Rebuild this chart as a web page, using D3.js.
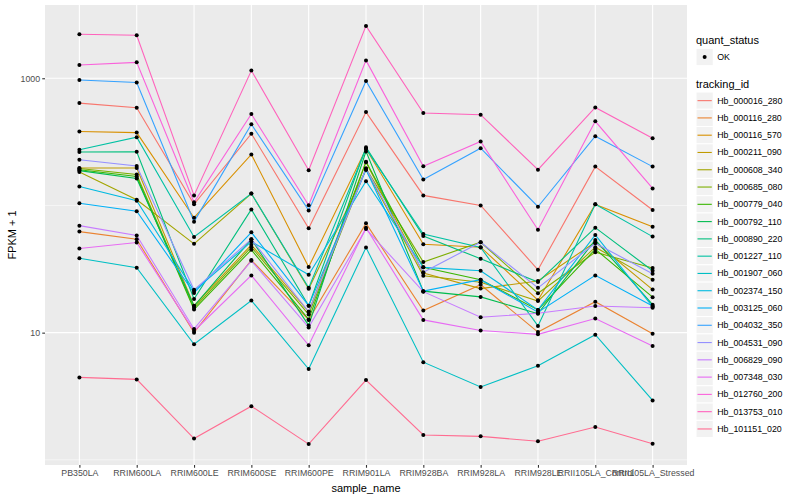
<!DOCTYPE html>
<html>
<head>
<meta charset="utf-8">
<script src="https://cdn.jsdelivr.net/npm/d3@7"></script>
<style>
  body { margin: 0; background: #ffffff; }
  svg text { font-family: "Liberation Sans", Arial, Helvetica, sans-serif; }
</style>
</head>
<body>
<div id="chart"></div>
<script>
// samples on the x axis
const samples = ["PB350LA", "RRIM600LA", "RRIM600LE", "RRIM600SE", "RRIM600PE", "RRIM901LA",
  "RRIM928BA", "RRIM928LA", "RRIM928LE", "RRII105LA_Control", "RRII105LA_Stressed"];

const trackingIds = ["Hb_000016_280", "Hb_000116_280", "Hb_000116_570", "Hb_000211_090", "Hb_000608_340",
  "Hb_000685_080", "Hb_000779_040", "Hb_000792_110", "Hb_000890_220", "Hb_001227_110",
  "Hb_001907_060", "Hb_002374_150", "Hb_003125_060", "Hb_004032_350", "Hb_004531_090",
  "Hb_006829_090", "Hb_007348_030", "Hb_012760_200", "Hb_013753_010", "Hb_101151_020"];

// FPKM + 1, one array per tracking_id, in sample order
const hb000016_280 = [638, 586, 102, 367, 66.1, 542, 120, 100, 31.2, 202, 92.2];
const hb000116_280 = [62.3, 54.2, 10.0, 37.2, 12.6, 72.3, 14.9, 23.8, 10.1, 17.5, 9.8];
const hb000116_570 = [381, 374, 80.1, 252, 32.8, 279, 49.6, 47.0, 18.0, 102, 67.9];
const hb000211_090 = [197, 197, 16.3, 49.0, 14.6, 219, 29.4, 22.2, 25.5, 51.4, 21.8];
const hb000608_340 = [183, 111, 49.9, 124, 22.1, 191, 28.0, 24.9, 17.7, 47.0, 26.0];
const hb000685_080 = [195, 175, 15.7, 47.0, 13.9, 195, 35.9, 51.4, 20.4, 42.9, 32.2];
const hb000779_040 = [191, 169, 15.2, 44.8, 12.7, 221, 32.6, 26.1, 15.1, 45.3, 19.0];
const hb000792_110 = [188, 163, 16.2, 54.2, 11.4, 266, 21.2, 19.1, 14.1, 53.6, 16.6];
const hb000890_220 = [263, 264, 18.4, 93.1, 16.3, 287, 57.6, 38.1, 25.0, 66.9, 30.7];
const hb001227_110 = [274, 344, 56.5, 124, 22.5, 279, 59.7, 46.7, 11.3, 102, 56.9];
const hb001907_060 = [38.5, 32.4, 8.1, 17.9, 5.17, 46.7, 5.86, 3.74, 5.49, 9.64, 2.93];
const hb002374_150 = [141, 109, 21.3, 52.0, 28.5, 155, 32.6, 30.7, 15.1, 58.6, 16.0];
const hb003125_060 = [104, 90.2, 20.5, 61.5, 16.3, 191, 21.2, 26.1, 14.5, 28.2, 16.2];
const hb004032_350 = [970, 926, 74.6, 435, 91.4, 953, 160, 282, 97.7, 350, 202];
const hb004531_090 = [229, 204, 21.7, 54.2, 14.6, 195, 29.8, 51.4, 22.5, 50.5, 29.1];
const hb006829_090 = [69.4, 58.0, 10.7, 36.7, 11.0, 65.3, 21.0, 13.2, 14.2, 16.2, 15.7];
const hb007348_030 = [45.9, 51.1, 10.3, 28.2, 7.96, 66.9, 12.6, 10.4, 9.7, 12.9, 7.87];
const hb012760_200 = [1270, 1334, 106, 523, 100.5, 1382, 203, 318, 64.4, 459, 136];
const hb013753_010 = [2219, 2180, 120, 1149, 189, 2580, 533, 517, 191, 590, 338];
const hb101151_020 = [4.45, 4.29, 1.47, 2.64, 1.33, 4.24, 1.57, 1.53, 1.40, 1.81, 1.34];

const seriesValues = [hb000016_280, hb000116_280, hb000116_570, hb000211_090, hb000608_340,
  hb000685_080, hb000779_040, hb000792_110, hb000890_220, hb001227_110,
  hb001907_060, hb002374_150, hb003125_060, hb004032_350, hb004531_090,
  hb006829_090, hb007348_030, hb012760_200, hb013753_010, hb101151_020];

const yTicks = [10, 1000];
const yMinor = [1, 100, 10000];

// ggplot hue palette, 20 levels
const palette = ["#F8766D", "#EA8331", "#D89000", "#C09B00", "#A3A500", "#7CAE00", "#39B600",
  "#00BB4E", "#00BF7D", "#00C1A3", "#00BFC4", "#00BAE0", "#00B0F6", "#35A2FF", "#9590FF",
  "#C77CFF", "#E76BF3", "#FA62DB", "#FF62BC", "#FF6C91"];

const width = 800, height = 500;
const panel = {left: 45, right: 687, top: 5, bottom: 465};

const svg = d3.select("#chart").append("svg")
  .attr("width", width)
  .attr("height", height);

const series = trackingIds.map((id, i) => ({id: id, values: seriesValues[i], colour: palette[i]}));

const x = d3.scalePoint()
  .domain(samples)
  .range([panel.left, panel.right])
  .padding(0.6);

// log scale with 5% expansion like ggplot
let ext = d3.extent(seriesValues.flat(), v => Math.log10(v));
let pad = (ext[1] - ext[0]) * 0.05;
const y = d3.scaleLog()
  .domain([Math.pow(10, ext[0] - pad), Math.pow(10, ext[1] + pad)])
  .range([panel.bottom, panel.top]);

svg.append("rect")
  .attr("x", panel.left)
  .attr("y", panel.top)
  .attr("width", panel.right - panel.left)
  .attr("height", panel.bottom - panel.top)
  .style("fill", "#EBEBEB");

const grid = svg.append("g");
const yDom = y.domain();

grid.selectAll("line.minor")
  .data(yMinor.filter(d => d >= yDom[0] && d <= yDom[1]))
  .enter().append("line")
  .attr("x1", panel.left).attr("x2", panel.right)
  .attr("y1", d => y(d)).attr("y2", d => y(d))
  .style("stroke", "#ffffff").style("stroke-width", 0.55);

grid.selectAll("line.ymajor")
  .data(yTicks)
  .enter().append("line")
  .attr("x1", panel.left).attr("x2", panel.right)
  .attr("y1", d => y(d)).attr("y2", d => y(d))
  .style("stroke", "#ffffff").style("stroke-width", 1.1);

grid.selectAll("line.xmajor")
  .data(samples)
  .enter().append("line")
  .attr("x1", d => x(d)).attr("x2", d => x(d))
  .attr("y1", panel.top).attr("y2", panel.bottom)
  .style("stroke", "#ffffff").style("stroke-width", 1.1);

const line = d3.line()
  .x((d, i) => x(samples[i]))
  .y(d => y(d));

svg.append("g").selectAll("path")
  .data(series)
  .enter().append("path")
  .attr("d", d => line(d.values))
  .style("fill", "none")
  .style("stroke", d => d.colour)
  .style("stroke-width", 1.1);

svg.append("g").selectAll("g")
  .data(series)
  .enter().append("g")
  .selectAll("circle")
  .data(d => d.values)
  .enter().append("circle")
  .attr("cx", (d, i) => x(samples[i]))
  .attr("cy", d => y(d))
  .attr("r", 2)
  .style("fill", "#000000");

// axes
const yAxis = d3.axisLeft(y)
  .tickValues(yTicks)
  .tickFormat(d3.format("d"))
  .tickSize(2.75)
  .tickPadding(2.2);

const gy = svg.append("g")
  .attr("transform", `translate(${panel.left},0)`)
  .call(yAxis);

const xAxis = d3.axisBottom(x)
  .tickSize(2.75)
  .tickPadding(2.2);

const gx = svg.append("g")
  .attr("transform", `translate(0,${panel.bottom})`)
  .call(xAxis);

[gx, gy].forEach(g => {
  g.select(".domain").remove();
  g.selectAll(".tick line").style("stroke", "#333333").style("stroke-width", 1.1);
  g.selectAll(".tick text")
    .style("fill", "#4D4D4D")
    .style("font-size", "8.8px")
    .style("font-family", "'Liberation Sans', Arial, sans-serif");
});

svg.append("text")
  .attr("x", (panel.left + panel.right) / 2)
  .attr("y", 492)
  .style("text-anchor", "middle")
  .style("font-size", "11px")
  .text("sample_name");

svg.append("text")
  .attr("transform", `translate(16,${(panel.top + panel.bottom) / 2}) rotate(-90)`)
  .style("text-anchor", "middle")
  .style("font-size", "11px")
  .text("FPKM + 1");

// legends
const keySize = 17.28;
const legX = 696;

svg.append("text")
  .attr("x", legX).attr("y", 44)
  .style("font-size", "11px")
  .text("quant_status");

const okKey = svg.append("g").attr("transform", `translate(${legX},${57 - keySize / 2})`);
okKey.append("rect")
  .attr("width", keySize).attr("height", keySize)
  .style("fill", "#F2F2F2").style("stroke", "#ffffff");
okKey.append("circle")
  .attr("cx", keySize / 2).attr("cy", keySize / 2).attr("r", 2)
  .style("fill", "#000000");
okKey.append("text")
  .attr("x", keySize + 4).attr("y", keySize / 2 + 3)
  .style("font-size", "8.8px")
  .text("OK");

svg.append("text")
  .attr("x", legX).attr("y", 88)
  .style("font-size", "11px")
  .text("tracking_id");

const keys = svg.append("g").selectAll("g")
  .data(series)
  .enter().append("g")
  .attr("transform", (d, i) => `translate(${legX},${92 + i * keySize})`);

keys.append("rect")
  .attr("width", keySize).attr("height", keySize)
  .style("fill", "#F2F2F2").style("stroke", "#ffffff");

keys.append("line")
  .attr("x1", 1.5).attr("x2", keySize - 1.5)
  .attr("y1", keySize / 2).attr("y2", keySize / 2)
  .style("stroke", d => d.colour)
  .style("stroke-width", 1.1);

keys.append("text")
  .attr("x", keySize + 4).attr("y", keySize / 2 + 3)
  .style("font-size", "8.8px")
  .text(d => d.id);
</script>
</body>
</html>
